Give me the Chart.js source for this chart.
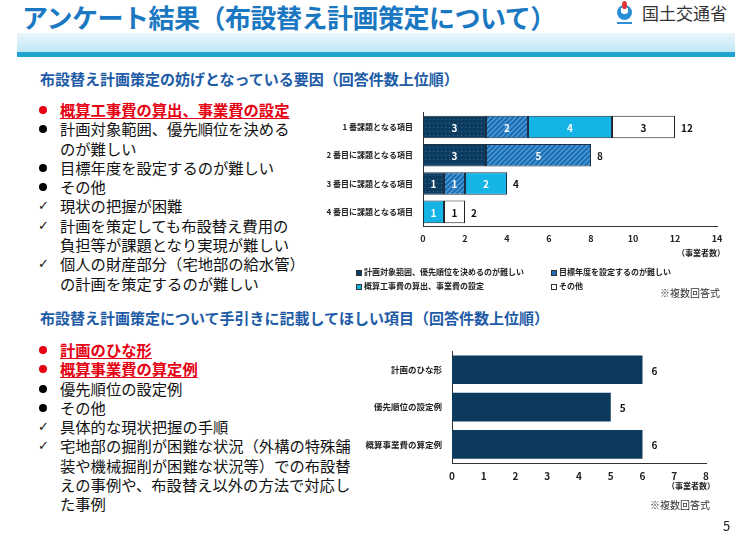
<!DOCTYPE html>
<html lang="ja">
<head>
<meta charset="utf-8">
<script src="https://cdn.jsdelivr.net/npm/chart.js@4/dist/chart.umd.min.js"></script>
<style>
  html, body { margin: 0; padding: 0; background: #fff; }
  body { width: 754px; height: 533px; position: relative; overflow: hidden;
         font-family: 'Noto Sans CJK JP', 'Noto Sans', sans-serif; color: #111; }
  .abs { position: absolute; white-space: nowrap; }
  #title { left: 22px; top: 0px; font-size: 26px; font-weight: 700; color: #1a78c2; letter-spacing: -0.5px; line-height: 34px; }
  #band { left: 17px; top: 33px; width: 718px; height: 19px;
          background: linear-gradient(#eaf7fc, #bfe6f5); }
  #bandLine { left: 17px; top: 52px; width: 718px; height: 5px; background: #1ea3cf; }
  #logoText { left: 642px; top: 1px; font-size: 17px; color: #333; line-height: 24px; }
  #logoIcon { left: 617px; top: 5px; width: 15px; height: 15px; border-radius: 50%;
              background: radial-gradient(circle at 50% 35%, #fff 0 30%, #2a8fd6 32% 100%); }
  #logoFlame { left: 622px; top: 1px; width: 5px; height: 8px; border-radius: 50% 50% 40% 40%; background: #e0353a; }
  #logoBar { left: 617px; top: 22px; width: 15px; height: 2px; background: #2a8fd6; }
  .sub { font-size: 15px; font-weight: 700; color: #1d5ba6; line-height: 20px; }
  .list { font-size: 15.3px; line-height: 19.3px; }
  .list div { position: relative; padding-left: 22px; }
  .list .dot::before { content: ''; position: absolute; left: 1px; top: 6px; width: 8px; height: 8px; border-radius: 50%; background: #000; }
  .list .dot.red::before { background: #e60012; }
  .list .chk::before { content: '\2713'; position: absolute; left: 0; top: 0; font-family: 'DejaVu Sans'; font-size: 13px; }
  .list .red { color: #e60012; font-weight: 700; }
  .list .red span { text-decoration: underline; text-decoration-thickness: 1px; text-underline-offset: 2px; }
  .small { font-size: 8px; font-weight: 700; color: #222; }
  .note { font-size: 10px; color: #333; }
  .leg { font-size: 8px; font-weight: 700; color: #222; line-height: 10px; }
  .sw { display: inline-block; width: 6px; height: 6px; border: 1px solid #333; margin-right: 2px; vertical-align: -1px; box-sizing: border-box; }
  canvas { position: absolute; }
</style>
</head>
<body>
<div id="title" class="abs">アンケート結果（布設替え計画策定について）</div>
<div id="logoIcon" class="abs"></div>
<div id="logoFlame" class="abs"></div>
<div id="logoBar" class="abs"></div>
<div id="logoText" class="abs">国土交通省</div>
<div id="band" class="abs"></div>
<div id="bandLine" class="abs"></div>

<div class="abs sub" style="left:40px;top:69px;">布設替え計画策定の妨げとなっている要因（回答件数上位順）</div>
<div class="abs list" style="left:38px;top:100px;">
  <div class="dot red"><span>概算工事費の算出、事業費の設定</span></div>
  <div class="dot">計画対象範囲、優先順位を決める<br>のが難しい</div>
  <div class="dot">目標年度を設定するのが難しい</div>
  <div class="dot">その他</div>
  <div class="chk">現状の把握が困難</div>
  <div class="chk">計画を策定しても布設替え費用の<br>負担等が課題となり実現が難しい</div>
  <div class="chk">個人の財産部分（宅地部の給水管）<br>の計画を策定するのが難しい</div>
</div>

<div class="abs sub" style="left:40px;top:308px;">布設替え計画策定について手引きに記載してほしい項目（回答件数上位順）</div>
<div class="abs list" style="left:38px;top:340px;">
  <div class="dot red"><span>計画のひな形</span></div>
  <div class="dot red"><span>概算事業費の算定例</span></div>
  <div class="dot">優先順位の設定例</div>
  <div class="dot">その他</div>
  <div class="chk">具体的な現状把握の手順</div>
  <div class="chk">宅地部の掘削が困難な状況（外構の特殊舗<br>装や機械掘削が困難な状況等）での布設替<br>えの事例や、布設替え以外の方法で対応し<br>た事例</div>
</div>

<canvas id="topChart" style="left:300px;top:98px;" width="430" height="162"></canvas>
<div class="abs small" style="left:677px;top:247px;">（事業者数）</div>
<div class="abs leg" style="left:356px;top:267px;"><span class="sw" style="background:#0b3b5e"></span>計画対象範囲、優先順位を決めるのが難しい</div>
<div class="abs leg" style="left:551px;top:267px;"><span class="sw" style="background:#1f74bb"></span>目標年度を設定するのが難しい</div>
<div class="abs leg" style="left:356px;top:281px;"><span class="sw" style="background:#14b4e6"></span>概算工事費の算出、事業費の設定</div>
<div class="abs leg" style="left:551px;top:281px;"><span class="sw" style="background:#fff"></span>その他</div>
<div class="abs note" style="left:660px;top:285px;">※複数回答式</div>

<canvas id="bottomChart" style="left:340px;top:336px;" width="380" height="150"></canvas>
<div class="abs small" style="left:667px;top:480px;">（事業者数）</div>
<div class="abs note" style="left:650px;top:497px;">※複数回答式</div>
<div class="abs" style="left:723px;top:516px;font-size:13px;color:#222;">5</div>

<script>
// 妨げとなっている要因
const rankLabels = ['1 番課題となる項目', '2 番目に課題となる項目', '3 番目に課題となる項目', '4 番目に課題となる項目'];
const scopePriority = [3, 3, 1, null];
const targetYear = [2, 5, 1, null];
const costEstimate = [4, null, 2, 1];
const otherReasons = [3, null, null, 1];
const topTicks = [0, 2, 4, 6, 8, 10, 12, 14];

// 手引きに記載してほしい項目
const guideLabels = ['計画のひな形', '優先順位の設定例', '概算事業費の算定例'];
const guideCounts = [6, 5, 6];
const bottomTicks = [0, 1, 2, 3, 4, 5, 6, 7, 8];

const FONT = "'Noto Sans CJK JP', sans-serif";

function dotPattern(bg, fg) {
    const c = document.createElement('canvas');
    c.width = c.height = 4;
    const x = c.getContext('2d');
    x.fillStyle = bg; x.fillRect(0, 0, 4, 4);
    x.fillStyle = fg; x.fillRect(1, 1, 1, 1);
    return x.createPattern(c, 'repeat');
}

function hatchPattern(bg, fg) {
    const c = document.createElement('canvas');
    c.width = c.height = 5;
    const x = c.getContext('2d');
    x.fillStyle = bg; x.fillRect(0, 0, 5, 5);
    x.strokeStyle = fg; x.lineWidth = 1.3;
    x.beginPath();
    x.moveTo(-1, 6); x.lineTo(6, -1);
    x.moveTo(-1, 1); x.lineTo(1, -1);
    x.moveTo(4, 6); x.lineTo(6, 4);
    x.stroke();
    return x.createPattern(c, 'repeat');
}

// segment values inside bars, totals after the last segment
const valueLabels = {
    id: 'valueLabels',
    afterDatasetsDraw(chart, args, opts) {
        const ctx = chart.ctx;
        ctx.save();
        ctx.font = opts.font;
        ctx.textBaseline = 'middle';
        const totals = [];
        chart.data.datasets.forEach((ds, di) => {
            const meta = chart.getDatasetMeta(di);
            meta.data.forEach((el, i) => {
                const v = ds.data[i];
                if (v == null) return;
                totals[i] = (totals[i] || 0) + v;
                if (opts.inside) {
                    ctx.fillStyle = ds.labelColor || '#fff';
                    ctx.textAlign = 'center';
                    ctx.fillText(v, (el.x + el.base) / 2, el.y + 1);
                }
            });
        });
        const xs = chart.scales.x;
        const meta0 = chart.getDatasetMeta(0);
        ctx.fillStyle = '#111';
        ctx.textAlign = 'left';
        totals.forEach((t, i) => {
            if (t == null) return;
            ctx.fillText(t, xs.getPixelForValue(t) + opts.offset, meta0.data[i].y + 1);
        });
        ctx.restore();
    }
};

function axisOptions(ticks, yWidth, xHeight, tickFont, catFont) {
    return {
        x: {
            stacked: true, min: ticks[0], max: ticks[ticks.length - 1],
            afterBuildTicks: s => { s.ticks = ticks.map(v => ({ value: v })); },
            afterFit: s => { s.height = xHeight; },
            grid: { display: false, drawTicks: false },
            border: { display: true, color: '#333', width: 1 },
            ticks: { padding: 7, color: '#222', font: { family: FONT, size: tickFont, weight: 'bold' } }
        },
        y: {
            stacked: true,
            afterFit: s => { s.width = yWidth; },
            grid: { display: false, drawTicks: false },
            border: { display: true, color: '#333', width: 1 },
            ticks: { padding: 10, color: '#222', font: { family: FONT, size: catFont, weight: 'bold' } }
        }
    };
}

const initTopChart = () => {
    const ctx = document.getElementById('topChart').getContext('2d');
    const base = { borderColor: '#1d2f44', borderWidth: 1, borderSkipped: false,
                   categoryPercentage: 1, barPercentage: 0.8 };
    return new Chart(ctx, {
        type: 'bar',
        data: {
            labels: rankLabels,
            datasets: [
                { ...base, label: '計画対象範囲、優先順位を決めるのが難しい', data: scopePriority,
                  backgroundColor: dotPattern('#0b3b5e', '#3d6a8c') },
                { ...base, label: '目標年度を設定するのが難しい', data: targetYear,
                  backgroundColor: hatchPattern('#1c6db0', '#4f9fdc') },
                { ...base, label: '概算工事費の算出、事業費の設定', data: costEstimate,
                  backgroundColor: '#14b4e6' },
                { ...base, label: 'その他', data: otherReasons,
                  backgroundColor: '#ffffff', borderColor: '#222', labelColor: '#111' }
            ]
        },
        options: {
            indexAxis: 'y', responsive: false, animation: false,
            layout: { padding: { top: 9, right: 13, left: 0, bottom: 0 } },
            plugins: {
                legend: { display: false }, tooltip: { enabled: false },
                valueLabels: { inside: true, offset: 6, font: "bold 10px " + FONT }
            },
            scales: axisOptions(topTicks, 123, 34, 9, 8)
        },
        plugins: [valueLabels]
    });
};

const initBottomChart = () => {
    const ctx = document.getElementById('bottomChart').getContext('2d');
    return new Chart(ctx, {
        type: 'bar',
        data: {
            labels: guideLabels,
            datasets: [{
                label: '事業者数', data: guideCounts,
                backgroundColor: '#0b3a5c', borderColor: '#0b3a5c', borderWidth: 0,
                categoryPercentage: 1, barPercentage: 0.77
            }]
        },
        options: {
            indexAxis: 'y', responsive: false, animation: false,
            layout: { padding: { top: 5, right: 14, left: 0, bottom: 0 } },
            plugins: {
                legend: { display: false }, tooltip: { enabled: false },
                valueLabels: { inside: false, offset: 9, font: "bold 10px " + FONT }
            },
            scales: axisOptions(bottomTicks, 112, 23, 10, 8.5)
        },
        plugins: [valueLabels]
    });
};

let topChart = initTopChart();
let bottomChart = initBottomChart();
</script>
</body>
</html>
